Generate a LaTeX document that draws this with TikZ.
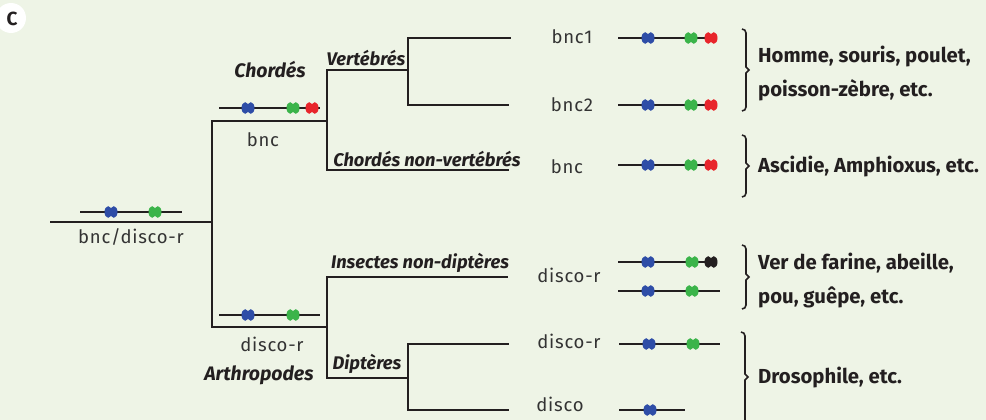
\documentclass[tikz,border=0pt]{standalone}
\usepackage{fontspec}
\setmainfont{Fira Sans}
\newfontfamily\seqfont[LetterSpace=4]{Fira Sans}
\definecolor{bg}{HTML}{EEF4E6}
\definecolor{ink}{HTML}{231F20}
\definecolor{lbl}{HTML}{333333}
\definecolor{gblue}{HTML}{2E4DA7}
\definecolor{ggreen}{HTML}{3BB44A}
\definecolor{gred}{HTML}{E8252B}
\newcommand\genebead[2]{\fill[#1] (#2) ++(-2.8,0) ellipse (3.7 and 5.8) ++(5.6,0) ellipse (3.7 and 5.8);}
\begin{document}
\begin{tikzpicture}[x=1pt,y=-1pt,
  tree/.style={line width=2.8pt,ink,line cap=rect},
  bar/.style={line width=1.4pt,ink},
  brk/.style={line width=1.6pt,ink},
  seq/.style={font=\fontsize{18.5}{18.5}\selectfont\seqfont,text=lbl,inner sep=0pt},
  clade/.style={font=\fontsize{18.3}{18.3}\selectfont\bfseries\itshape,text=ink,inner sep=0pt,anchor=base},
  sp/.style={font=\fontsize{20.3}{20.3}\selectfont\bfseries,text=ink,inner sep=0pt,anchor=west}]
\fill[bg] (0,0) rectangle (986,420);
\useasboundingbox (0,0) rectangle (986,420);
% panel letter
\fill[white] (11,18) circle (15);
\node[font=\fontsize{19}{19}\selectfont\bfseries,text=ink] (letter) at (12,19) {C};
% tree coordinates
\coordinate (r0) at (51,222);
\coordinate (r1) at (212,222);
\coordinate (cA) at (212,121);
\coordinate (aA) at (212,327);
\coordinate (cB) at (327,121);
\coordinate (aB) at (327,327);
\coordinate (cT) at (327,70);
\coordinate (cD) at (327,170);
\coordinate (vB) at (408,70);
\coordinate (nvE) at (508,170);
\coordinate (vT) at (408,38);
\coordinate (vD) at (408,105);
\coordinate (v1) at (510,38);
\coordinate (v2) at (508,105);
\coordinate (aT) at (327,277);
\coordinate (aD) at (327,378);
\coordinate (indE) at (507,277);
\coordinate (dB) at (408,378);
\coordinate (dT) at (408,344);
\coordinate (dD) at (408,410);
\coordinate (d1) at (508,344);
\coordinate (d2) at (508,410);
\draw[tree] (r0) -- (r1);
\draw[tree] (cA) -- (aA);
\draw[tree] (cA) -- (cB);
\draw[tree] (aA) -- (aB);
\draw[tree] (cT) -- (cD);
\draw[tree] (cT) -- (vB);
\draw[tree] (cD) -- (nvE);
\draw[tree] (vT) -- (vD);
\draw[tree] (vT) -- (v1);
\draw[tree] (vD) -- (v2);
\draw[tree] (aT) -- (aD);
\draw[tree] (aT) -- (indE);
\draw[tree] (aD) -- (dB);
\draw[tree] (dT) -- (dD);
\draw[tree] (dT) -- (d1);
\draw[tree] (dD) -- (d2);
% gene bars on branches
\coordinate (g0a) at (80,212); \coordinate (g0b) at (182,212);
\draw[bar] (g0a) -- (g0b);
\genebead{gblue}{111,212}\genebead{ggreen}{155,212}
\coordinate (g1a) at (219,108); \coordinate (g1b) at (320,108);
\draw[bar] (g1a) -- (g1b);
\genebead{gblue}{248,108}\genebead{ggreen}{293,108}\genebead{gred}{312,108}
\coordinate (g2a) at (219,315); \coordinate (g2b) at (320,315);
\draw[bar] (g2a) -- (g2b);
\genebead{gblue}{248,315}\genebead{ggreen}{293,315}
% gene bars on right
\coordinate (h1a) at (618,38); \coordinate (h1b) at (716,38);
\draw[bar] (h1a) -- (h1b);
\genebead{gblue}{648,38}\genebead{ggreen}{691,38}\genebead{gred}{711,38}
\coordinate (h2a) at (618,105); \coordinate (h2b) at (716,105);
\draw[bar] (h2a) -- (h2b);
\genebead{gblue}{648,105}\genebead{ggreen}{691,105}\genebead{gred}{711,105}
\coordinate (h3a) at (618,165); \coordinate (h3b) at (716,165);
\draw[bar] (h3a) -- (h3b);
\genebead{gblue}{648,165}\genebead{ggreen}{691,165}\genebead{gred}{711,165}
\coordinate (h4a) at (618,262); \coordinate (h4b) at (716,262);
\draw[bar] (h4a) -- (h4b);
\genebead{gblue}{648,262}\genebead{ggreen}{692,262}\genebead{ink}{711,262}
\coordinate (h5a) at (618,291); \coordinate (h5b) at (720,291);
\draw[bar] (h5a) -- (h5b);
\genebead{gblue}{648,291}\genebead{ggreen}{692,291}
\coordinate (h6a) at (619,344); \coordinate (h6b) at (720,344);
\draw[bar] (h6a) -- (h6b);
\genebead{gblue}{649,344}\genebead{ggreen}{693,344}
\coordinate (h7a) at (619,410); \coordinate (h7b) at (685,410);
\draw[bar] (h7a) -- (h7b);
\genebead{gblue}{650,410}
% labels on tree
\node[seq] (lroot) at (131,237) {bnc/disco-r};
\node[seq] (lchb) at (263,140) {bnc};
\node[seq] (larb) at (272,344) {disco-r};
\node[font=\fontsize{19.5}{19.5}\selectfont\bfseries\itshape,text=ink,inner sep=0pt] (lchord) at (270,70) {Chordés};
\node[font=\fontsize{19.5}{19.5}\selectfont\bfseries\itshape,text=ink,inner sep=0pt] (larth) at (259,375) {Arthropodes};
\node[clade] (lvert) at (366,66) {Vertébrés};
\node[clade] (lnv) at (427,166) {Chordés non-vertébrés};
\node[clade] (lind) at (420,268) {Insectes non-diptères};
\node[clade] (ldip) at (367,369) {Diptères};
% gene names
\node[seq] (n1) at (572,37) {bnc1};
\node[seq] (n2) at (572,105) {bnc2};
\node[seq] (n3) at (567,167) {bnc};
\node[seq] (n4) at (569,275) {disco-r};
\node[seq] (n5) at (569,341) {disco-r};
\node[seq] (n6) at (560,404) {disco};
% brackets
\draw[brk] (742,29) to[out=0,in=90] (746,33) -- (746,67) -- (749,70) -- (746,73) -- (746,107) to[out=-90,in=0] (742,111);
\draw[brk] (742,135) to[out=0,in=90] (746,139) -- (746,163) -- (749,166) -- (746,169) -- (746,193) to[out=-90,in=0] (742,197);
\draw[brk] (742,245) to[out=0,in=90] (746,249) -- (746,274) -- (749,277) -- (746,280) -- (746,305) to[out=-90,in=0] (742,309);
\draw[brk] (741,332) to[out=0,in=90] (745,336) -- (745,374) -- (748,377) -- (745,380) -- (745,420);
% species
\node[sp] (s1) at (758,57) {Homme, souris, poulet,};
\node[sp] (s2) at (758,90) {poisson-zèbre, etc.};
\node[sp] (s3) at (758,167) {Ascidie, Amphioxus, etc.};
\node[sp] (s4) at (758,263) {Ver de farine, abeille,};
\node[sp] (s5) at (758,297) {pou, guêpe, etc.};
\node[sp] (s6) at (758,378) {Drosophile, etc.};
\end{tikzpicture}
\end{document}
